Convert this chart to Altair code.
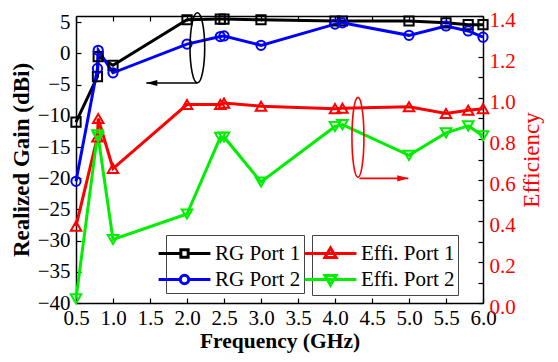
import altair as alt
import pandas as pd

# ---------------- data ----------------
freq = [0.5, 0.79, 0.8, 1.0, 2.0, 2.45, 2.5, 3.0, 4.0, 4.1, 5.0, 5.5, 5.8, 6.0]
rg_port1 = [-11.0, -3.7, -0.5, -1.9, 5.4, 5.5, 5.5, 5.4, 5.2, 5.2, 5.2, 4.9, 4.6, 4.6]
rg_port2 = [-20.5, -2.4, 0.5, -3.1, 1.5, 2.7, 2.8, 1.3, 4.7, 4.9, 2.9, 4.4, 3.6, 2.6]
effi_port1 = [0.375, 0.81, 0.90, 0.656, 0.968, 0.968, 0.975, 0.96, 0.948, 0.95, 0.957, 0.924, 0.94, 0.948]
effi_port2 = [0.02, 0.82, 0.81, 0.31, 0.434, 0.808, 0.81, 0.59, 0.861, 0.87, 0.72, 0.83, 0.864, 0.816]

rg_names = ["RG Port 1", "RG Port 2"]
effi_names = ["Effi. Port 1", "Effi. Port 2"]
rg_colors = ["black", "blue"]
effi_colors = ["red", "#00ee00"]
rg_shapes = ["square", "circle"]
effi_shapes = ["triangle-up", "triangle-down"]

x_ticks = [0.5, 1.0, 1.5, 2.0, 2.5, 3.0, 3.5, 4.0, 4.5, 5.0, 5.5, 6.0]
gain_ticks = [-40, -35, -30, -25, -20, -15, -10, -5, 0, 5]
effi_ticks = [0.0, 0.1, 0.2, 0.3, 0.4, 0.5, 0.6, 0.7, 0.8, 0.9, 1.0, 1.1, 1.2, 1.3, 1.4]

# annotation (ellipse + arrow) anchors, in data units
gain_note_f = [2.14]
gain_note_v = [0.9]
gain_arrow_f = [2.14]
gain_arrow_f2 = [1.45]
gain_arrow_v = [-4.75]
effi_note_f = [4.31]
effi_note_v = [0.808]
effi_arrow_f = [4.33]
effi_arrow_f2 = [4.99]
effi_arrow_v = [0.608]

FONT = "Liberation Serif"

rg_df = pd.DataFrame({
    "freq": freq * 2,
    "value": rg_port1 + rg_port2,
    "series": [n for n in rg_names for _ in freq],
})
effi_df = pd.DataFrame({
    "freq": freq * 2,
    "value": effi_port1 + effi_port2,
    "series": [n for n in effi_names for _ in freq],
})

# legend symbol paths (line + hollow marker)
SQ = "M-1.85,0H-0.26M0.26,0H1.85M-0.26,-0.26H0.26V0.26H-0.26Z"
CI = "M-1.85,0H-0.3M0.3,0H1.85M0.3,0A0.3,0.3,0,1,1,-0.3,0A0.3,0.3,0,1,1,0.3,0Z"
TU = "M-1.85,0H1.85M-0.4,0.28H0.4L0,-0.4Z"
TD = "M-1.85,0H1.85M-0.4,-0.28H0.4L0,0.4Z"


def make_legend(names, p1, p2, lx):
    return alt.Legend(
        title=None, orient="none", legendX=lx, legendY=219,
        labelFont=FONT, labelFontSize=21, labelColor="black", labelOffset=15,
        symbolSize=784, symbolStrokeWidth=3,
        symbolType={"expr": "datum.value === '%s' ? '%s' : '%s'" % (names[0], p1, p2)},
        symbolFillColor="transparent", symbolOpacity=1,
        rowPadding=0, padding=3, strokeColor="#444444",
    )


X_SCALE = alt.Scale(domain=[0.5, 6.0], nice=False, zero=False)

x_bottom_axis = alt.Axis(orient="bottom", values=x_ticks, format=".1f", title="Frequency (GHz)",
                         labelFont=FONT, labelFontSize=21, labelColor="black", labelPadding=9,
                         labelOverlap=False, labelFlush=False, labelBound=False,
                         tickSize={"expr": "-5"}, tickColor="black", tickWidth=1.2,
                         domainColor="black", domainWidth=1.5, grid=False,
                         titleFont=FONT, titleFontSize=21.5, titleFontWeight="bold",
                         titleColor="black", titlePadding=2)
x_top_axis = alt.Axis(orient="top", values=x_ticks, labels=False, title=None,
                      tickSize={"expr": "-5"}, tickColor="black", tickWidth=1.2,
                      domainColor="black", domainWidth=1.5, grid=False)


def x_enc(orient, field="freq:Q"):
    return alt.X(field, scale=X_SCALE, axis=x_bottom_axis if orient == "bottom" else x_top_axis)


gain_axis = alt.Axis(orient="left", values=gain_ticks, format="d", title="Realized Gain (dBi)",
                     labelFont=FONT, labelFontSize=21, labelColor="black", labelPadding=11,
                     labelOverlap=False, labelFlush=False,
                     tickSize={"expr": "-5"}, tickColor="black", tickWidth=1.2,
                     domainColor="black", domainWidth=1.5, grid=False,
                     titleFont=FONT, titleFontSize=23, titleFontWeight="bold",
                     titleColor="black", titlePadding=4)
gain_y = alt.Y("value:Q", scale=alt.Scale(domain=[-40, 6], nice=False, zero=False), axis=gain_axis)

effi_axis = alt.Axis(orient="right", values=effi_ticks, title="Efficiency",
                     labelExpr="round(datum.value*10) % 2 == 0 ? format(datum.value, '.1f') : ''",
                     labelFont=FONT, labelFontSize=21, labelColor="red", labelPadding=11,
                     labelOverlap=False, labelFlush=False, labelOffset=4,
                     tickSize={"expr": "-5"}, tickColor="black", tickWidth=1.2,
                     domainColor="black", domainWidth=1.5, grid=False,
                     titleFont=FONT, titleFontSize=23, titleFontWeight="normal",
                     titleColor="red", titlePadding=5, titleAngle=270, titleBaseline="top")
effi_y = alt.Y("value:Q", scale=alt.Scale(domain=[0, 1.4], nice=False, zero=False), axis=effi_axis)

rg_color = alt.Color("series:N", scale=alt.Scale(domain=rg_names, range=rg_colors),
                     legend=make_legend(rg_names, SQ, CI, 90))
effi_color = alt.Color("series:N", scale=alt.Scale(domain=effi_names, range=effi_colors),
                       legend=make_legend(effi_names, TU, TD, 236))

# ---------------- left (gain) group ----------------
rg_line = alt.Chart(rg_df).mark_line(strokeWidth=3).encode(
    x=x_enc("bottom"), y=gain_y, color=rg_color)
rg_pts = [
    alt.Chart(rg_df).transform_filter(alt.datum.series == name).mark_point(
        shape=shp, filled=False, strokeWidth=2, size=85, opacity=1).encode(
        x=x_enc("bottom"), y=gain_y, color=rg_color)
    for name, shp in zip(rg_names, rg_shapes)
]

gain_note_df = pd.DataFrame({"freq": gain_note_f, "value": gain_note_v})
gain_arrow_df = pd.DataFrame({"freq": gain_arrow_f, "freq2": gain_arrow_f2, "value": gain_arrow_v})
gain_ellipse = alt.Chart(gain_note_df).mark_point(
    shape="M0,-1A0.21,1,0,1,1,0,1A0.21,1,0,1,1,0,-1Z", size=4900, filled=False,
    stroke="black", strokeWidth=1.6, opacity=1).encode(x=x_enc("bottom"), y=gain_y)
gain_rule = alt.Chart(gain_arrow_df).mark_rule(color="black", strokeWidth=1.6).encode(
    x=x_enc("bottom"), x2="freq2:Q", y=gain_y)
gain_head = alt.Chart(gain_arrow_df).mark_point(
    shape="M0,0L2,-0.55L2,0.55Z", size=121, filled=True, color="black", opacity=1).encode(
    x=x_enc("bottom", "freq2:Q"), y=gain_y)

left = alt.layer(rg_line, *rg_pts, gain_ellipse, gain_rule, gain_head)

# ---------------- right (efficiency) group ----------------
effi_line = alt.Chart(effi_df).mark_line(strokeWidth=3).encode(
    x=x_enc("top"), y=effi_y, color=effi_color)
effi_pts = [
    alt.Chart(effi_df).transform_filter(alt.datum.series == name).mark_point(
        shape=shp, filled=False, strokeWidth=2, size=110, opacity=1).encode(
        x=x_enc("top"), y=effi_y, color=effi_color)
    for name, shp in zip(effi_names, effi_shapes)
]

effi_note_df = pd.DataFrame({"freq": effi_note_f, "value": effi_note_v})
effi_arrow_df = pd.DataFrame({"freq": effi_arrow_f, "freq2": effi_arrow_f2, "value": effi_arrow_v})
effi_ellipse = alt.Chart(effi_note_df).mark_point(
    shape="M0,-1A0.15,1,0,1,1,0,1A0.15,1,0,1,1,0,-1Z", size=6400, filled=False,
    stroke="red", strokeWidth=1.6, opacity=1).encode(x=x_enc("top"), y=effi_y)
effi_rule = alt.Chart(effi_arrow_df).mark_rule(color="red", strokeWidth=1.6).encode(
    x=x_enc("top"), x2="freq2:Q", y=effi_y)
effi_head = alt.Chart(effi_arrow_df).mark_point(
    shape="M0,0L-2,-0.55L-2,0.55Z", size=121, filled=True, color="red", opacity=1).encode(
    x=x_enc("top", "freq2:Q"), y=effi_y)

right = alt.layer(effi_line, *effi_pts, effi_ellipse, effi_rule, effi_head)

chart = alt.layer(left, right).resolve_scale(
    y="independent", color="independent"
).resolve_axis(x="independent", y="independent").resolve_legend(
    color="independent"
).properties(
    width=407, height=287,
    autosize=alt.AutoSizeParams(type="none"),
    padding={"left": 68, "top": 8, "right": 67, "bottom": 51},
    background="white",
).configure_view(stroke=None)

chart.save("out.html", embed_options={"renderer": "svg", "actions": False})
